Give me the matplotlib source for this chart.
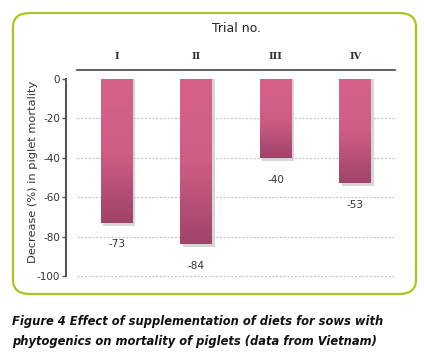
import numpy as np
import matplotlib
matplotlib.use('Agg')
import matplotlib.pyplot as plt
from matplotlib.patches import FancyBboxPatch
from matplotlib.colors import LinearSegmentedColormap

plt.rcParams['axes.unicode_minus'] = False

trials = ['I', 'II', 'III', 'IV']
decrease = [-73, -84, -40, -53]
yticks = [0, -20, -40, -60, -80, -100]

W, H = 424, 352
fig = plt.figure(figsize=(W / 100, H / 100), dpi=100)

# rounded green frame
frame = FancyBboxPatch((13 / W, 1 - 294 / H), 403 / W, 281 / H,
                       boxstyle='round,pad=0,rounding_size=0.04',
                       transform=fig.transFigure, facecolor='white',
                       edgecolor='#a6c81e', linewidth=1.6, zorder=-1)
fig.patches.append(frame)

ax = fig.add_axes([77 / W, 1 - 276 / H, 318 / W, 206 / H])
ax.patch.set_alpha(0)

x = np.arange(len(trials))
cmap = LinearSegmentedColormap.from_list('pink', ['#d6628c', '#cf5d86', '#a0436a'])
grad = np.linspace(0, 1, 256).reshape(-1, 1)

for xi, v in zip(x, decrease):
    # drop shadow
    ax.bar(xi + 0.03, v - 1.4, width=0.4, color='#cccccc', alpha=0.8, zorder=2)
    bar = ax.bar(xi, v, width=0.4, color='none', zorder=3)[0]
    im = ax.imshow(grad, cmap=cmap, aspect='auto', zorder=3,
                   extent=[xi - 0.2, xi + 0.2, v, 0])
    im.set_clip_path(bar)
    ax.annotate(str(v), (xi, v), xytext=(0, -12), textcoords='offset points',
                ha='center', va='top', fontsize=7.5, color='#333333')

ax.set_xlim(-0.5, 3.5)
ax.set_ylim(-100, 4.6)

for t in yticks[1:]:
    ax.axhline(t, color='#c2c2c2', lw=0.9, ls=(0, (1.5, 1.5)), zorder=1,
               clip_on=False)

ax.set_yticks(yticks)
ax.tick_params(axis='y', length=3, width=1, color='#555555', pad=1,
               labelsize=7.5, labelcolor='#333333')
ax.set_xticks([])

ax.spines['left'].set_bounds(-100, 0)
ax.spines['left'].set_position(('outward', 8))
ax.spines['left'].set_color('#555555')
ax.spines['left'].set_linewidth(1.5)
ax.spines['right'].set_visible(False)
ax.spines['bottom'].set_visible(False)
ax.spines['top'].set_color('#444444')
ax.spines['top'].set_linewidth(1.2)

for xi, lab in zip(x, trials):
    ax.text(xi, 1.065, lab, transform=ax.get_xaxis_transform(), ha='center',
            va='center', fontsize=7, family='DejaVu Serif', fontweight='bold',
            color='#333333')

fig.text(33 / W, 1 - 172 / H, 'Decrease (%) in piglet mortality', rotation=90,
         ha='center', va='center', fontsize=8.2, color='#333333')

fig.text(236 / W, 1 - 28 / H, 'Trial no.', ha='center', va='center',
         fontsize=9, color='#222222')

fig.text(12 / W, 1 - 322 / H,
         'Figure 4 Effect of supplementation of diets for sows with',
         ha='left', va='center', fontsize=8.3, fontweight='bold',
         style='italic', color='#111111')
fig.text(12 / W, 1 - 341 / H,
         'phytogenics on mortality of piglets (data from Vietnam)',
         ha='left', va='center', fontsize=8.3, fontweight='bold',
         style='italic', color='#111111')

fig.savefig('out.png', dpi=100)
